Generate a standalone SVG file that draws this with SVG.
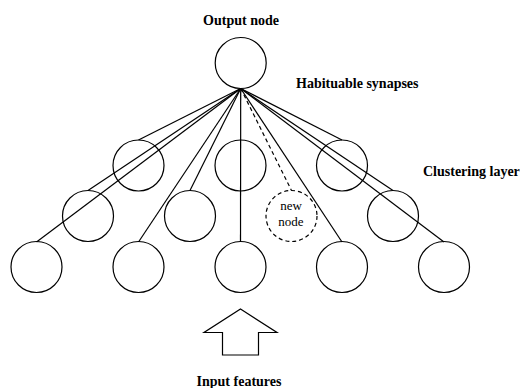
<svg xmlns="http://www.w3.org/2000/svg" width="520" height="388" viewBox="0 0 520 388">
<style>
.n{fill:none;stroke:#000;stroke-width:1.2}
.d{fill:none;stroke:#000;stroke-width:1.2;stroke-dasharray:4 3}
.c line{stroke:#000;stroke-width:1.2}
.lb{font-family:"Liberation Serif",serif;font-weight:bold;font-size:14px;fill:#000}
.t{font-family:"Liberation Serif",serif;font-size:13px;fill:#000;text-anchor:middle}
</style>
<rect width="520" height="388" fill="#fff"/>
<g class="c" id="connectors">
<line x1="240.7" y1="88.5" x2="138.5" y2="140"/>
<line x1="240.7" y1="88.5" x2="88" y2="190.5"/>
<line x1="240.7" y1="88.5" x2="36.5" y2="242"/>
<line x1="240.7" y1="88.5" x2="190" y2="190.5"/>
<line x1="240.7" y1="88.5" x2="138.5" y2="242"/>
<line x1="240.7" y1="88.5" x2="240.5" y2="242"/>
<line x1="240.7" y1="88.5" x2="291.5" y2="190.5" stroke-dasharray="4 3"/>
<line x1="240.7" y1="88.5" x2="342" y2="242"/>
<line x1="240.7" y1="88.5" x2="342" y2="140"/>
<line x1="240.7" y1="88.5" x2="393" y2="190.5"/>
<line x1="240.7" y1="88.5" x2="444" y2="242"/>
</g>
<g id="output"><circle class="n" cx="240.7" cy="63" r="25.5"/></g>
<g id="c1"><circle class="n" cx="138.5" cy="165.5" r="25.5"/></g>
<g id="c2"><circle class="n" cx="240.5" cy="165.5" r="25.5"/></g>
<g id="c3"><circle class="n" cx="342" cy="165.5" r="25.5"/></g>
<g id="c4"><circle class="n" cx="88" cy="216" r="25.5"/></g>
<g id="c5"><circle class="n" cx="190" cy="216" r="25.5"/></g>
<g id="newnode"><circle class="d" cx="291.5" cy="216" r="25.5"/>
<text class="t" x="291" y="210">new</text><text class="t" x="291" y="226">node</text></g>
<g id="c6"><circle class="n" cx="393" cy="216" r="25.5"/></g>
<g id="i1"><circle class="n" cx="36.5" cy="267" r="25.5"/></g>
<g id="i2"><circle class="n" cx="138.5" cy="267" r="25.5"/></g>
<g id="i3"><circle class="n" cx="240.5" cy="267" r="25.5"/></g>
<g id="i4"><circle class="n" cx="342" cy="267" r="25.5"/></g>
<g id="i5"><circle class="n" cx="444" cy="267" r="25.5"/></g>
<g id="arrow"><polygon class="n" points="240.5,309 277,332.5 258.5,332.5 258.5,355 222.5,355 222.5,332.5 204,332.5"/></g>
<text class="lb" x="241" y="25" text-anchor="middle">Output node</text>
<text class="lb" x="296" y="88">Habituable synapses</text>
<text class="lb" x="423" y="176">Clustering layer</text>
<text class="lb" x="239" y="386" text-anchor="middle">Input features</text>
</svg>
